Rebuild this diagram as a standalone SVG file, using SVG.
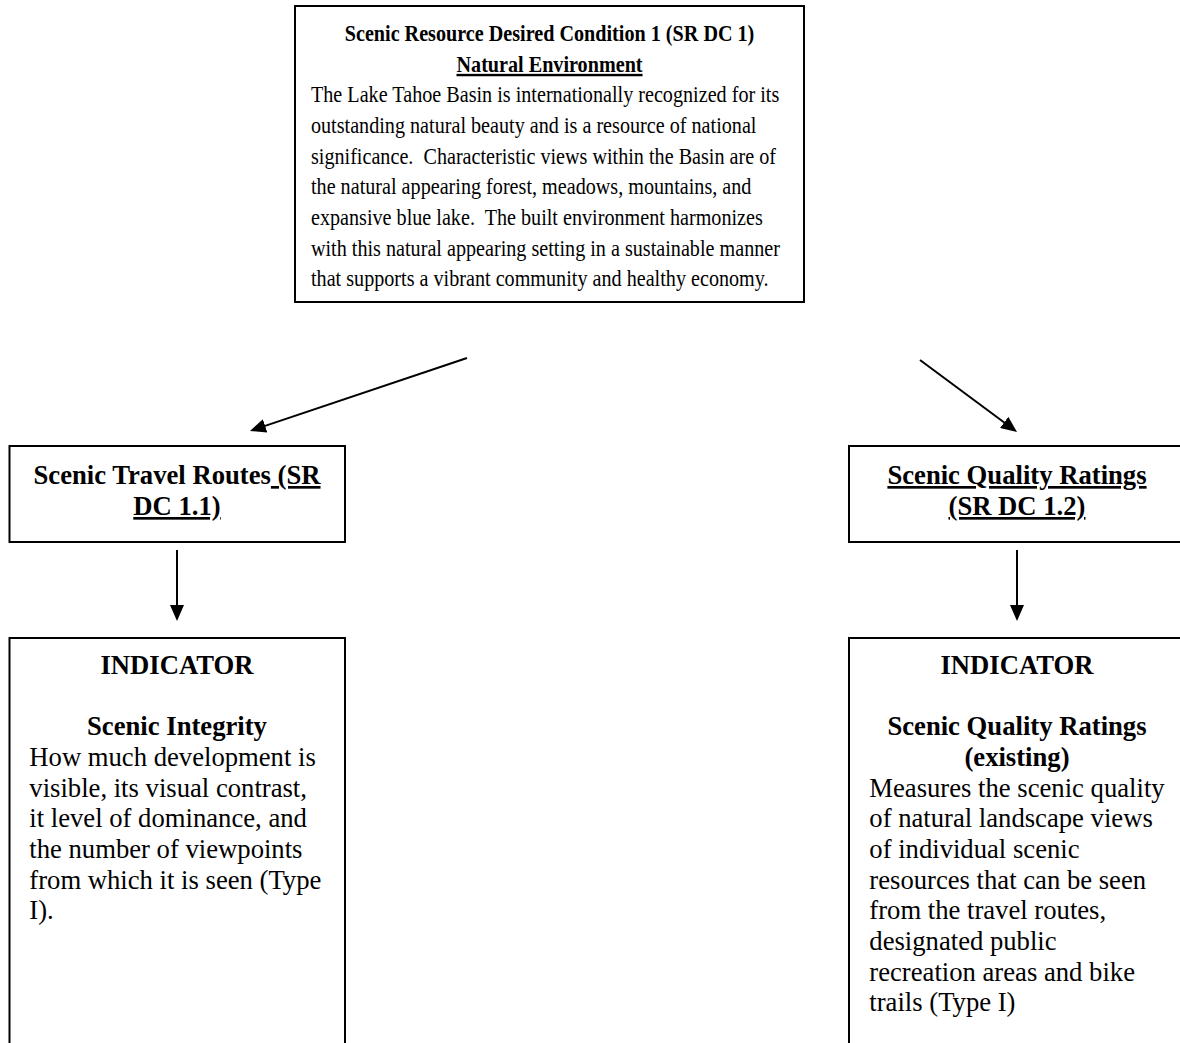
<svg xmlns="http://www.w3.org/2000/svg" width="1180" height="1043" viewBox="0 0 1180 1043">
<style>
text{font-family:"Liberation Serif","Times New Roman",serif;font-size:26.67px;fill:#000}
.t text{font-size:24px}
.b{font-weight:bold}
.c{text-anchor:middle}
.u{text-decoration:underline}
.box{fill:#fff;stroke:#000;stroke-width:2}
.ln{stroke:#000;stroke-width:2;fill:none}
</style>
<defs>
<marker id="ah" viewBox="0 0 16 14" refX="11" refY="7" markerWidth="16" markerHeight="14" markerUnits="userSpaceOnUse" orient="auto">
<path d="M0,0 L16,7 L0,14 z" fill="#000"/>
</marker>
</defs>
<rect width="1180" height="1043" fill="#fff"/>
<g id="connectors">
<line class="ln" x1="467" y1="358" x2="254.7" y2="429.4" marker-end="url(#ah)"/>
<line class="ln" x1="920" y1="360" x2="1013" y2="429" marker-end="url(#ah)"/>
<line class="ln" x1="177" y1="550" x2="177" y2="616" marker-end="url(#ah)"/>
<line class="ln" x1="1017" y1="550" x2="1017" y2="616" marker-end="url(#ah)"/>
</g>
<g id="sr-dc-1">
<rect class="box" x="295" y="6" width="509" height="296"/>
<g class="t" transform="matrix(0.84,0,0,1,0,0)">
<text class="b c" x="654.2" y="41">Scenic Resource Desired Condition 1 (SR DC 1)</text>
<text class="b c u" x="654.2" y="71.7">Natural Environment</text>
<text x="370.2" y="102.3">The Lake Tahoe Basin is internationally recognized for its</text>
<text x="370.2" y="133">outstanding natural beauty and is a resource of national</text>
<text x="370.2" y="163.7" xml:space="preserve">significance.  Characteristic views within the Basin are of</text>
<text x="370.2" y="194.3">the natural appearing forest, meadows, mountains, and</text>
<text x="370.2" y="225" xml:space="preserve">expansive blue lake.  The built environment harmonizes</text>
<text x="370.2" y="255.7">with this natural appearing setting in a sustainable manner</text>
<text x="370.2" y="286.3">that supports a vibrant community and healthy economy.</text>
</g>
</g>
<g id="sr-dc-1-1">
<rect class="box" x="9.5" y="446" width="335.5" height="96"/>
<text class="b c" x="177" y="484" xml:space="preserve">Scenic Travel Routes<tspan class="u"> (SR</tspan></text>
<text class="b c u" x="177" y="515">DC 1.1)</text>
</g>
<g id="sr-dc-1-2">
<rect class="box" x="849" y="446" width="336" height="96"/>
<text class="b c u" x="1017" y="484">Scenic Quality Ratings</text>
<text class="b c u" x="1017" y="515">(SR DC 1.2)</text>
</g>
<g id="indicator-1">
<rect class="box" x="9.5" y="638" width="335.5" height="420"/>
<text class="b c" x="177" y="674">INDICATOR</text>
<text class="b c" x="177" y="735.3">Scenic Integrity</text>
<text x="29.3" y="766">How much development is</text>
<text x="29.3" y="796.7">visible, its visual contrast,</text>
<text x="29.3" y="827.3">it level of dominance, and</text>
<text x="29.3" y="858">the number of viewpoints</text>
<text x="29.3" y="888.7">from which it is seen (Type</text>
<text x="29.3" y="919.3">I).</text>
</g>
<g id="indicator-2">
<rect class="box" x="849" y="638" width="336" height="420"/>
<text class="b c" x="1017" y="674">INDICATOR</text>
<text class="b c" x="1017" y="735.3">Scenic Quality Ratings</text>
<text class="b c" x="1017" y="766">(existing)</text>
<text x="869.3" y="796.7">Measures the scenic quality</text>
<text x="869.3" y="827.3">of natural landscape views</text>
<text x="869.3" y="858">of individual scenic</text>
<text x="869.3" y="888.7">resources that can be seen</text>
<text x="869.3" y="919.3">from the travel routes,</text>
<text x="869.3" y="950">designated public</text>
<text x="869.3" y="980.7">recreation areas and bike</text>
<text x="869.3" y="1011.3">trails (Type I)</text>
</g>
</svg>
